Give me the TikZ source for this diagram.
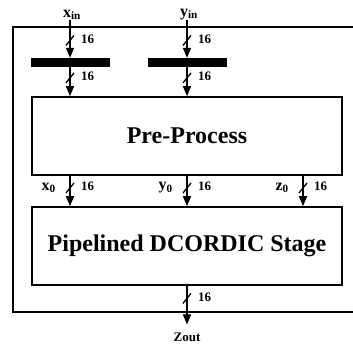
\documentclass[tikz,border=0pt]{standalone}
\usepackage{fontspec}
\setmainfont{Liberation Serif}
\usetikzlibrary{arrows.meta}

\tikzset{
  box/.style={draw, line width=1.6pt, minimum width=310pt, minimum height=78pt,
    font=\bfseries\fontsize{24}{28}\selectfont},
  reg/.style={draw, fill=black, minimum width=78pt, minimum height=8pt, inner sep=0pt},
  bus/.style={line width=1.5pt, -{Triangle[width=8pt,length=10pt]}},
  io/.style={inner sep=0pt, font=\bfseries\fontsize{16}{18}\selectfont},
  wd/.style={inner sep=0pt, anchor=west, xshift=11pt, yshift=1.5pt,
    font=\bfseries\fontsize{13}{15}\selectfont},
  sig/.style={inner sep=0pt, anchor=east, xshift=-14pt,
    font=\bfseries\fontsize{16}{18}\selectfont},
}
\newcommand{\buscut}[1]{\draw[line width=1.3pt] ([xshift=-4pt,yshift=-5pt]#1) -- ([xshift=4pt,yshift=5pt]#1);}

\begin{document}
\begin{tikzpicture}[x=1pt, y=-1pt]
  \useasboundingbox (0,0) rectangle (353,344);

  % moldura externa
  \draw[line width=1.8pt] (360,27) -- (13,27) -- (13,312) -- (360,312);

  % blocos
  \node[box] (pre) at (187,136) {Pre-Process};
  \node[box] (stage) at (187,246) {Pipelined DCORDIC Stage};

  % entradas e registradores
  \foreach \s/\px in {x/70, y/187}{
    \node[reg] (reg\s) at (\px+0.5,62) {};
    \node[io, anchor=south] (\s in) at (\px+2,20) {\s\textsubscript{in}};
    \draw[bus] (\s in.south -| \px,0) -- coordinate[pos=.54] (a\s) (\px,0 |- reg\s.north);
    \buscut{a\s}
    \node[wd] (wa\s) at (a\s) {16};
    \draw[bus] (\px,0 |- reg\s.south) -- coordinate[pos=.39] (b\s) (\px,0 |- pre.north);
    \buscut{b\s}
    \node[wd] (wb\s) at (b\s) {16};
  }

  % ligacoes entre os blocos
  \foreach \s/\px in {x/70, y/187, z/303}{
    \draw[bus] (\px,0 |- pre.south) -- coordinate[pos=.4] (c\s) (\px,0 |- stage.north);
    \buscut{c\s}
    \node[wd] (wc\s) at (c\s) {16};
    \node[sig] (\s0) at (c\s) {\s\textsubscript{0}};
  }

  % saida
  \node[io, font=\bfseries\fontsize{13}{15}\selectfont] (zout) at (187,337) {Zout};
  \draw[bus, shorten >=8pt] (stage.south) -- coordinate[pos=.27] (cout) (zout.north);
  \buscut{cout}
  \node[wd] (wout) at (cout) {16};
\end{tikzpicture}
\end{document}
